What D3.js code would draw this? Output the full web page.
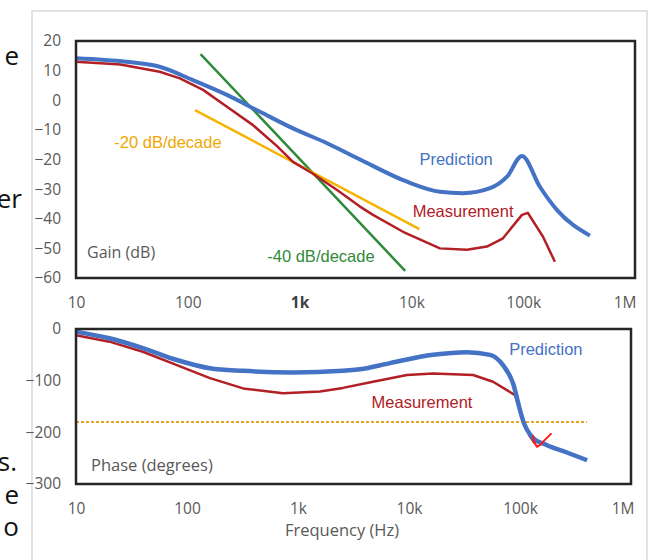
<!DOCTYPE html>
<html>
<head>
	<meta charset="UTF-8">
	<title>Bode plot: prediction vs measurement</title>
	<style type="text/css">
		body { margin: 0; background: #fff; }
		.tick text { fill: #595959; font-family: "Open Sans", sans-serif; font-size: 15.5px; }
	</style>
	<script src="https://d3js.org/d3.v7.min.js"></script>
</head>
<body>
<script type="text/javascript">

// ---- gain (dB) ----
var gainPredFreq = [10, 28, 56, 111, 224, 443, 873, 1760, 3470, 9140, 18000, 29000, 50500, 71600, 97500, 141000, 200000, 395000];
var gainPredDb = [14.2, 13.0, 11.3, 6.8, 1.8, -3.9, -9.5, -14.5, -20, -27.5, -30.9, -31.4, -29.7, -25.8, -18.8, -29.2, -37, -45.7];

var gainMeasFreq = [10, 25, 56, 85, 137, 224, 383, 628, 873, 1318, 2163, 3467, 4535, 8414, 18000, 31400, 47400, 65900, 97500, 110000, 150000, 192000];
var gainMeasDb = [13.0, 12.1, 9.6, 7.4, 3.5, -2.2, -8.4, -15.5, -20.8, -24.8, -30.3, -35.9, -38.7, -44.4, -50, -50.5, -49.4, -46.6, -38.7, -38, -46, -54.5];

var slope20Freq = [116, 11800];
var slope20Db = [-3.3, -43.5];
var slope40Freq = [130, 8800];
var slope40Db = [15.6, -57.6];

// ---- phase (degrees) ----
var phasePredFreq = [10, 20, 40, 81, 161, 320, 902, 2540, 3620, 6750, 16500, 33300, 53700, 70300, 86500, 100000, 106000, 131000, 175000, 265000, 402000];
var phasePredDeg = [-5, -18, -37, -60, -76, -81, -84, -81, -78, -66, -50, -45, -50, -70, -105, -157, -176, -211, -225, -239, -254];

var phaseMeasFreq = [10, 20, 40, 81, 161, 320, 733, 1578, 2540, 4740, 9590, 16500, 37800, 57100, 90200, 106000, 123000, 136000];
var phaseMeasDeg = [-12, -24.5, -44, -70, -95, -115, -124.5, -121, -114, -102, -89, -86, -89, -102, -128, -176, -208, -221];

// hand drawn red mark near the crossing
var markFreq = [131000, 136000, 142000, 152000, 165000, 190000];
var markDeg = [-207, -221, -228, -224.5, -216, -203];

var refFreq = [10, 400000];
var refDeg = [-180, -180];

// ---- axes ----
var freqTicks = [10, 100, 1000, 10000, 100000, 1000000];
var freqLabels = ["10", "100", "1k", "10k", "100k", "1M"];
var gainTicks = [20, 10, 0, -10, -20, -30, -40, -50, -60];
var phaseTicks = [0, -100, -200, -300];

// slide text cut off at the left edge
var sideText = ["e", "er", "s.", "e", "o"];
var sideBase = [65, 208, 471, 504, 536];
var sideRight = [19, 22, 17, 19, 19];

function zip(a, b) { return a.map(function(d, i) { return [d, b[i]]; }); }

var svg = d3.select("body").append("svg")
	.attr("width", 658)
	.attr("height", 560);

// slide frame
svg.append("path")
	.attr("d", "M32,560 V11 H647 V560")
	.attr("fill", "none")
	.attr("stroke", "#d9d9d9")
	.attr("stroke-width", 1.5);

svg.selectAll(".side").data(sideText).enter().append("text")
	.attr("x", function(d, i) { return sideRight[i]; })
	.attr("y", function(d, i) { return sideBase[i]; })
	.attr("text-anchor", "end")
	.attr("font-family", "Open Sans, sans-serif")
	.attr("font-size", 26)
	.attr("fill", "#111")
	.text(function(d) { return d; });

var annoFont = "Liberation Sans, Arial, sans-serif";

function label(g, x, y, txt, color, anchor) {
	g.append("text")
		.attr("x", x).attr("y", y).attr("dy", "0.35em")
		.attr("text-anchor", anchor || "middle")
		.attr("font-family", annoFont)
		.attr("font-size", 16.5)
		.attr("fill", color)
		.text(txt);
}

// ================= gain plot =================
var xG = d3.scaleLog().domain([10, 1e6]).range([76, 635]);
var yG = d3.scaleLinear().domain([-60, 20]).range([278, 41]);

var gGain = svg.append("g");

var xAxisG = d3.axisBottom(xG).tickValues(freqTicks)
	.tickFormat(function(d, i) { return freqLabels[i]; })
	.tickSize(0).tickPadding(3);
var gx = gGain.append("g").attr("transform", "translate(0,294)").call(xAxisG);
gx.select(".domain").remove();
gx.selectAll(".tick text").filter(function(d) { return d == 1000; })
	.attr("font-weight", "bold").style("fill", "#404040");
gx.selectAll(".tick text").filter(function(d) { return d == 1e6; })
	.attr("text-anchor", "end").attr("dx", 1);

var yAxisG = d3.axisLeft(yG).tickValues(gainTicks).tickSize(0).tickPadding(3);
var gy = gGain.append("g").attr("transform", "translate(64,0)").call(yAxisG);
gy.select(".domain").remove();

var lineG = d3.line().x(function(d) { return xG(d[0]); }).y(function(d) { return yG(d[1]); });

gGain.append("path").attr("d", lineG(zip(slope40Freq, slope40Db)))
	.attr("fill", "none").attr("stroke", "#2f8a3b").attr("stroke-width", 2.5);
gGain.append("path").attr("d", lineG(zip(slope20Freq, slope20Db)))
	.attr("fill", "none").attr("stroke", "#f5b400").attr("stroke-width", 2.5);
gGain.append("path").attr("d", lineG(zip(gainMeasFreq, gainMeasDb)))
	.attr("fill", "none").attr("stroke", "#b22025").attr("stroke-width", 2.5)
	.attr("stroke-linejoin", "round");
gGain.append("path").attr("d", lineG.curve(d3.curveMonotoneX)(zip(gainPredFreq, gainPredDb)))
	.attr("fill", "none").attr("stroke", "#4472c4").attr("stroke-width", 4)
	.attr("stroke-linejoin", "round");

gGain.append("rect")
	.attr("x", 76).attr("y", 41).attr("width", 559).attr("height", 237)
	.attr("fill", "none").attr("stroke", "#262626").attr("stroke-width", 2.5);

label(gGain, xG(66.5), yG(-14), "-20 dB/decade", "#f0a800");
label(gGain, xG(1552), yG(-52.6), "-40 dB/decade", "#2f8a3b");
label(gGain, xG(25100), yG(-19.8), "Prediction", "#4472c4");
label(gGain, xG(29000), yG(-37.6), "Measurement", "#b22025");

gGain.append("text")
	.attr("x", 87).attr("y", 252).attr("dy", "0.35em")
	.attr("font-family", "Open Sans, sans-serif").attr("font-size", 16)
	.attr("fill", "#595959").text("Gain (dB)");

// ================= phase plot =================
var xP = d3.scaleLog().domain([10, 1e6]).range([76, 631]);
var yP = d3.scaleLinear().domain([-300, 0]).range([484, 329]);

var gPhase = svg.append("g");

var xAxisP = d3.axisBottom(xP).tickValues(freqTicks)
	.tickFormat(function(d, i) { return freqLabels[i]; })
	.tickSize(0).tickPadding(3);
var px = gPhase.append("g").attr("transform", "translate(0,500)").call(xAxisP);
px.select(".domain").remove();
px.selectAll(".tick text").filter(function(d) { return d == 1e6; })
	.attr("text-anchor", "end").attr("dx", 3);

var yAxisP = d3.axisLeft(yP).tickValues(phaseTicks).tickSize(0).tickPadding(3);
var py = gPhase.append("g").attr("transform", "translate(64,0)").call(yAxisP);
py.select(".domain").remove();

var lineP = d3.line().x(function(d) { return xP(d[0]); }).y(function(d) { return yP(d[1]); });

gPhase.append("path").attr("d", lineP(zip(refFreq, refDeg)))
	.attr("fill", "none").attr("stroke", "#eaa520").attr("stroke-width", 2)
	.attr("stroke-dasharray", "3,2");
gPhase.append("path").attr("d", lineP(zip(phaseMeasFreq, phaseMeasDeg)))
	.attr("fill", "none").attr("stroke", "#b22025").attr("stroke-width", 2.5)
	.attr("stroke-linejoin", "round");
gPhase.append("path").attr("d", lineP.curve(d3.curveMonotoneX)(zip(phasePredFreq, phasePredDeg)))
	.attr("fill", "none").attr("stroke", "#4472c4").attr("stroke-width", 4.5)
	.attr("stroke-linejoin", "round");
gPhase.append("path").attr("d", lineP.curve(d3.curveLinear)(zip(markFreq, markDeg)))
	.attr("fill", "none").attr("stroke", "#ff1a1a").attr("stroke-width", 2)
	.attr("stroke-linejoin", "round").attr("stroke-linecap", "round");

gPhase.append("rect")
	.attr("x", 76).attr("y", 329).attr("width", 555).attr("height", 155)
	.attr("fill", "none").attr("stroke", "#262626").attr("stroke-width", 2.5);

label(gPhase, xP(171000), yP(-38.7), "Prediction", "#4472c4");
label(gPhase, xP(13100), yP(-142.6), "Measurement", "#b22025");

gPhase.append("text")
	.attr("x", 91).attr("y", 465).attr("dy", "0.35em")
	.attr("font-family", "Open Sans, sans-serif").attr("font-size", 16.5)
	.attr("fill", "#595959").text("Phase (degrees)");

gPhase.append("text")
	.attr("x", 342).attr("y", 530).attr("dy", "0.35em")
	.attr("text-anchor", "middle")
	.attr("font-family", "Open Sans, sans-serif").attr("font-size", 16.5)
	.attr("fill", "#595959").text("Frequency (Hz)");

</script>
</body>
</html>
